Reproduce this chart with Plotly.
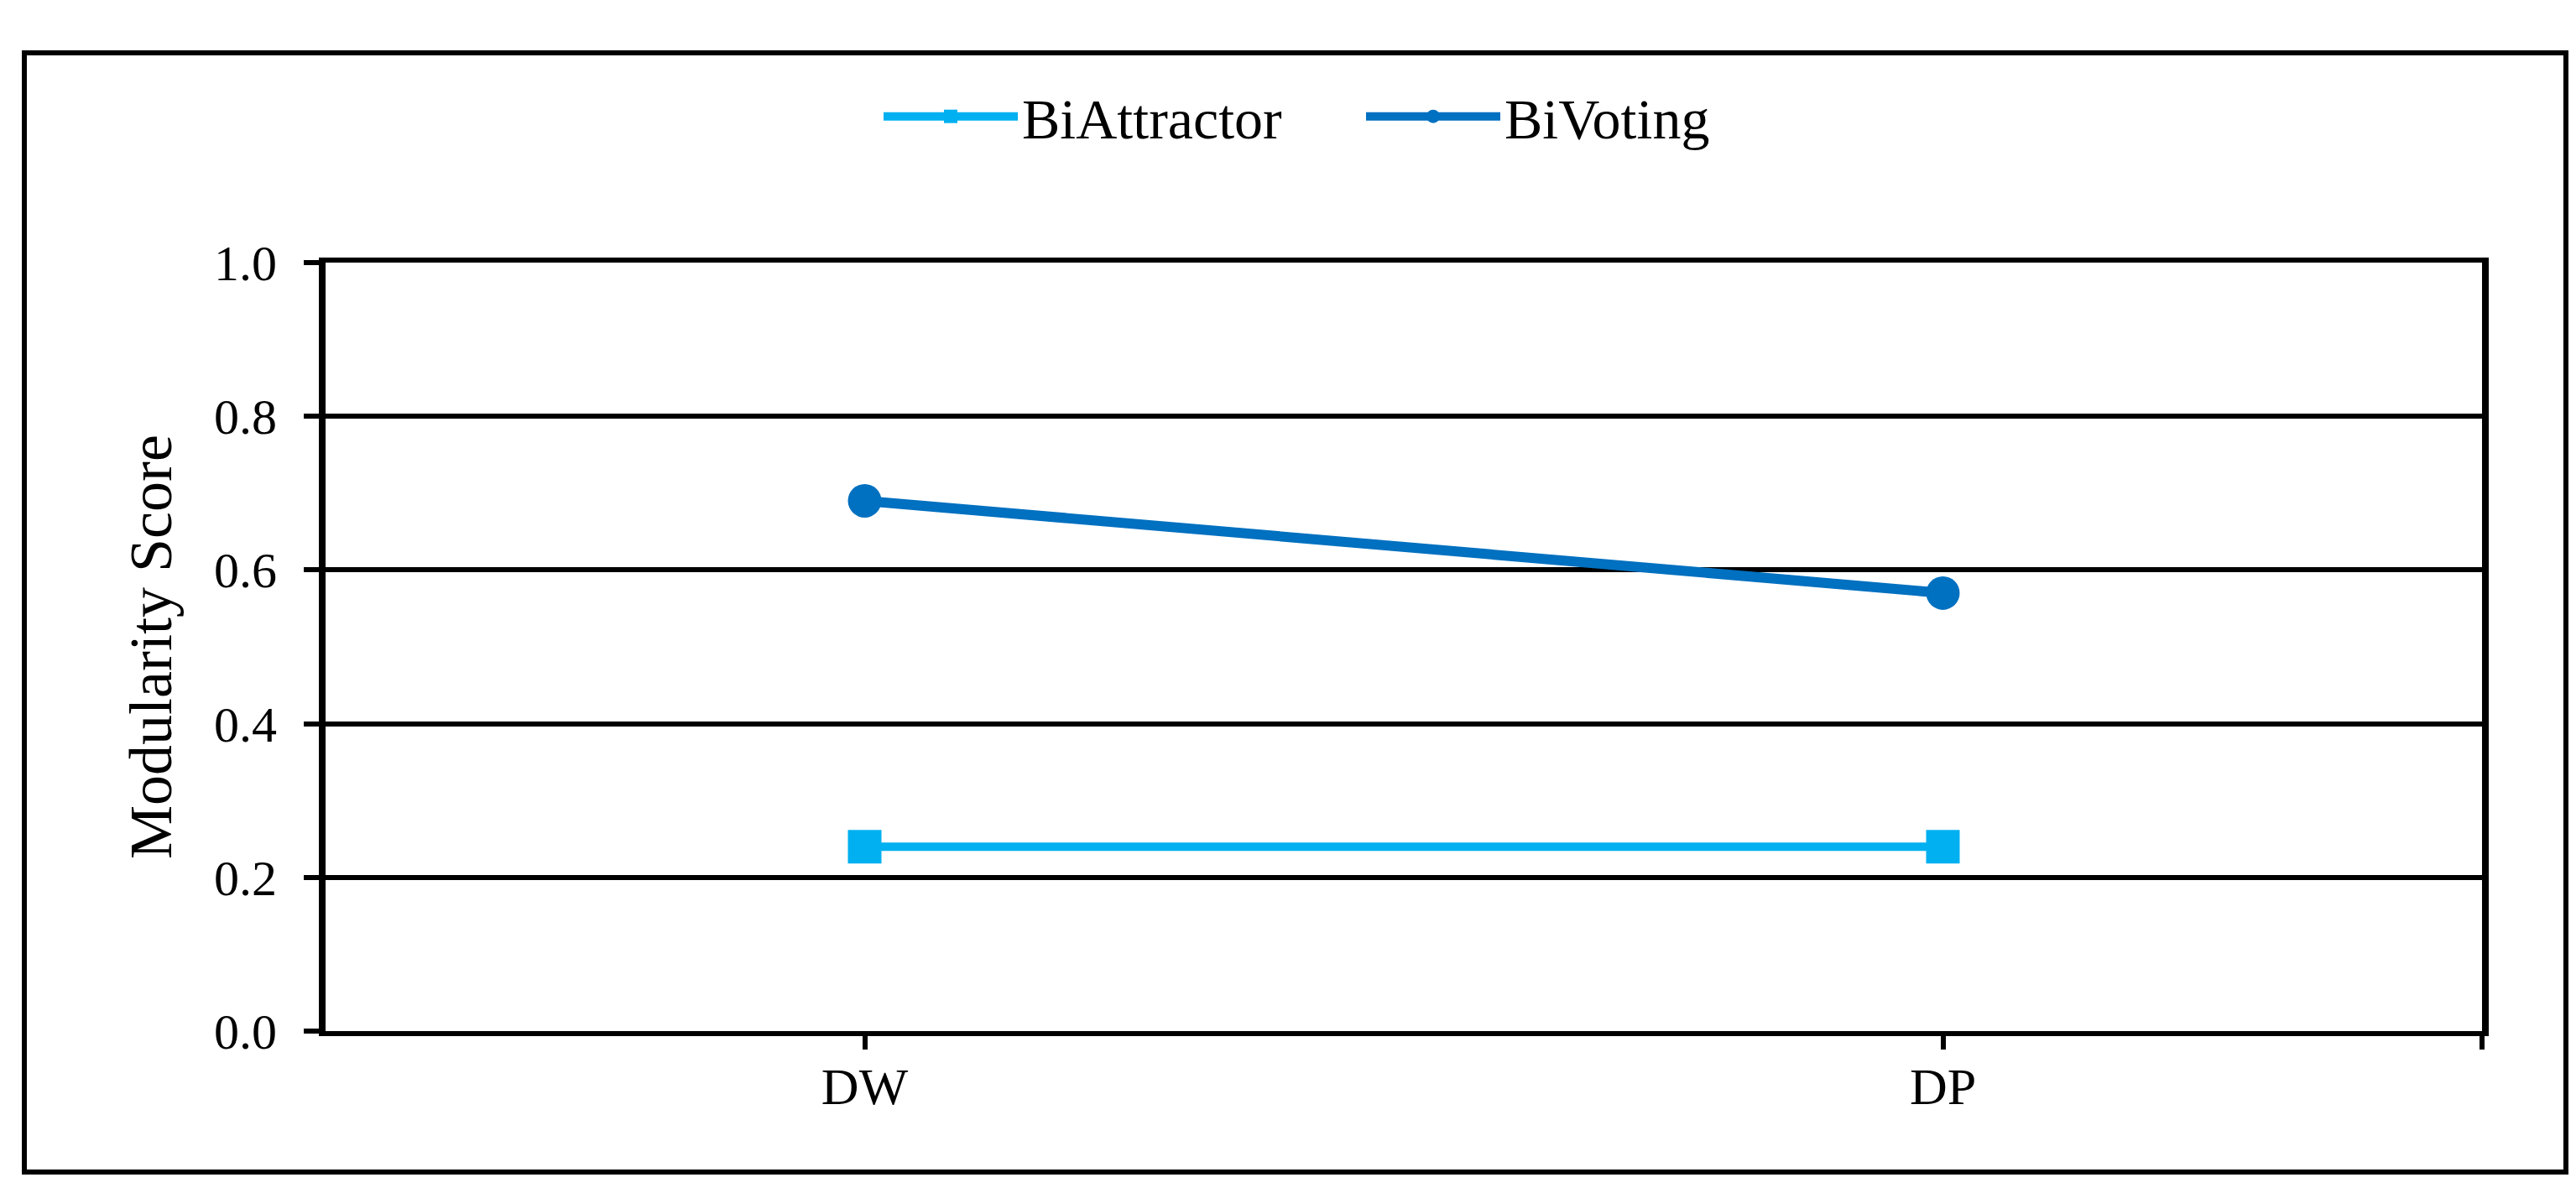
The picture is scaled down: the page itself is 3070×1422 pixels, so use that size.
import plotly.graph_objects as go

categories = ["DW", "DP"]
bi_attractor = [0.24, 0.24]
bi_voting = [0.69, 0.57]
y_ticks = [0.0, 0.2, 0.4, 0.6, 0.8, 1.0]
y_tick_labels = ["0.0", "0.2", "0.4", "0.6", "0.8", "1.0"]

W, H = 3070, 1422
L, R, T, B = 380, 120, 305, 201
pw, ph = W - L - R, H - T - B

xs = list(range(len(categories)))
FONT = "Liberation Serif"

fig = go.Figure()
fig.add_trace(go.Scatter(
    x=xs, y=bi_attractor, name="BiAttractor", mode="lines+markers",
    line=dict(color="#00B0F0", width=10),
    marker=dict(symbol="square", size=40, color="#00B0F0"),
))
fig.add_trace(go.Scatter(
    x=xs, y=bi_voting, name="BiVoting", mode="lines+markers",
    line=dict(color="#0070C0", width=12),
    marker=dict(symbol="circle", size=40, color="#0070C0"),
))

fig.update_layout(
    width=W, height=H,
    margin=dict(l=L, r=R, t=T, b=B, pad=0),
    paper_bgcolor="white", plot_bgcolor="white",
    font=dict(family=FONT, color="black", size=60),
    legend=dict(
        orientation="h", x=(1040 - L) / pw, xanchor="left", y=(H - B - 131) / ph,
        yanchor="middle", font=dict(size=68, family=FONT), itemwidth=160,
        entrywidth=400, entrywidthmode="pixels",
        itemsizing="trace", bgcolor="rgba(0,0,0,0)",
    ),
    showlegend=True,
)

fig.update_xaxes(
    range=[-0.5, 1.5],
    tickmode="array",
    tickvals=xs + [len(categories) - 0.5],
    ticktext=categories + [""],
    ticks="outside", ticklen=16, tickwidth=6, tickcolor="black",
    showline=True, linecolor="black", linewidth=6, mirror=True,
    showgrid=False, zeroline=False,
    tickfont=dict(size=62, family=FONT),
    ticklabelstandoff=-9,
)
fig.update_yaxes(
    range=[0, 1],
    tickmode="array", tickvals=y_ticks, ticktext=y_tick_labels,
    ticks="outside", ticklen=18, tickwidth=6, tickcolor="black",
    showline=True, linecolor="black", linewidth=8, mirror=True,
    showgrid=True, gridcolor="black", gridwidth=6,
    zeroline=False,
    tickfont=dict(size=60, family=FONT),
    ticklabelstandoff=20,
    title=dict(text="Modularity Score", font=dict(size=72, family=FONT), standoff=30),
)

# outer frame of the figure
fig.add_shape(
    type="rect", xref="paper", yref="paper",
    x0=(21 - L) / pw, x1=(3050 - L) / pw,
    y0=(H - B - 1389) / ph, y1=(H - B - 55) / ph,
    line=dict(color="black", width=6), fillcolor="rgba(0,0,0,0)", layer="below",
)

fig.write_html("out.html")
